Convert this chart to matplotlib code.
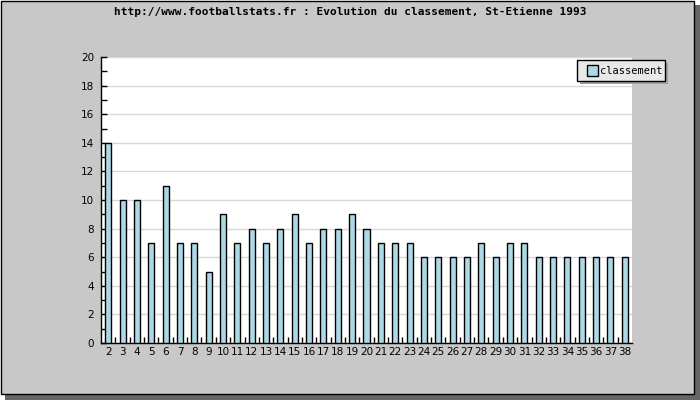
import matplotlib
matplotlib.use('Agg')
from matplotlib import pyplot as plt
from matplotlib.patches import Rectangle, Patch
from matplotlib.ticker import MultipleLocator, FixedLocator

# data
journees = list(range(2, 39))
classement = [14, 10, 10, 7, 11, 7, 7, 5, 9, 7, 8, 7, 8, 9, 7, 8, 8, 9, 8,
              7, 7, 7, 6, 6, 6, 6, 7, 6, 7, 7, 6, 6, 6, 6, 6, 6, 6]
title = 'http://www.footballstats.fr : Evolution du classement, St-Etienne 1993'

W, H = 700, 400
fig = plt.figure(figsize=(7, 4), dpi=100, facecolor='white')

# shadow + gray frame
fig.patches.append(Rectangle((5 / W, 0), 1 - 5 / W, 1 - 5 / H, transform=fig.transFigure,
                             facecolor='#666666', edgecolor='none', zorder=-10))
fig.patches.append(Rectangle((0.5 / W, 6.5 / H), 693 / W, 393 / H, transform=fig.transFigure,
                             facecolor='#c8c8c8', edgecolor='black', lw=1, zorder=-9))

ax = fig.add_axes([101 / W, (H - 343) / H, (632 - 101) / W, (343 - 57) / H])
ax.set_facecolor('white')

ax.bar(journees, classement, width=0.42, color='#add8e6', edgecolor='black', lw=1, zorder=3)

ax.set_xlim(journees[0] - 0.5, journees[-1] + 0.5)
ax.set_ylim(0, 20)
ax.yaxis.set_major_locator(MultipleLocator(2))
ax.yaxis.set_minor_locator(MultipleLocator(1))
ax.set_xticks(journees)
ax.set_xticklabels([str(j) for j in journees])
ax.xaxis.set_minor_locator(FixedLocator([j + 0.5 for j in journees[:-1]]))

ax.grid(axis='y', which='major', color='#d8d8d8', lw=1, zorder=0)
for s in ['top', 'right']:
    ax.spines[s].set_visible(False)
for s in ['left', 'bottom']:
    ax.spines[s].set_color('black')
    ax.spines[s].set_linewidth(1)

ax.tick_params(axis='y', which='both', direction='in', length=4, width=1, labelsize=7.5, pad=5)
ax.tick_params(axis='x', which='major', length=0, labelsize=7.5, pad=3)
ax.tick_params(axis='x', which='minor', direction='in', length=4, width=1)

fig.text(0.5, 1 - 12 / H, title, ha='center', va='center', fontsize=8,
         family='DejaVu Sans Mono', weight='bold')

# legend box
lx0, ly0, lw_, lh_ = 577, 60, 88, 21
fig.patches.append(Rectangle(((lx0 + 3) / W, (H - ly0 - lh_ - 3) / H), lw_ / W, lh_ / H,
                             transform=fig.transFigure, facecolor='#a0a0a0',
                             edgecolor='none', zorder=5))
fig.patches.append(Rectangle((lx0 / W, (H - ly0 - lh_) / H), lw_ / W, lh_ / H,
                             transform=fig.transFigure, facecolor='#e8e8e8',
                             edgecolor='black', lw=1, zorder=6))
fig.patches.append(Rectangle(((lx0 + 10) / W, (H - ly0 - 16) / H), 11 / W, 11 / H,
                             transform=fig.transFigure, facecolor='#add8e6',
                             edgecolor='black', lw=1, zorder=7))
fig.text((lx0 + 23) / W, (H - ly0 - lh_ / 2) / H, 'classement', ha='left', va='center',
         fontsize=7.5, family='DejaVu Sans Mono', zorder=8)

fig.savefig('out.png', dpi=100, facecolor='white')
